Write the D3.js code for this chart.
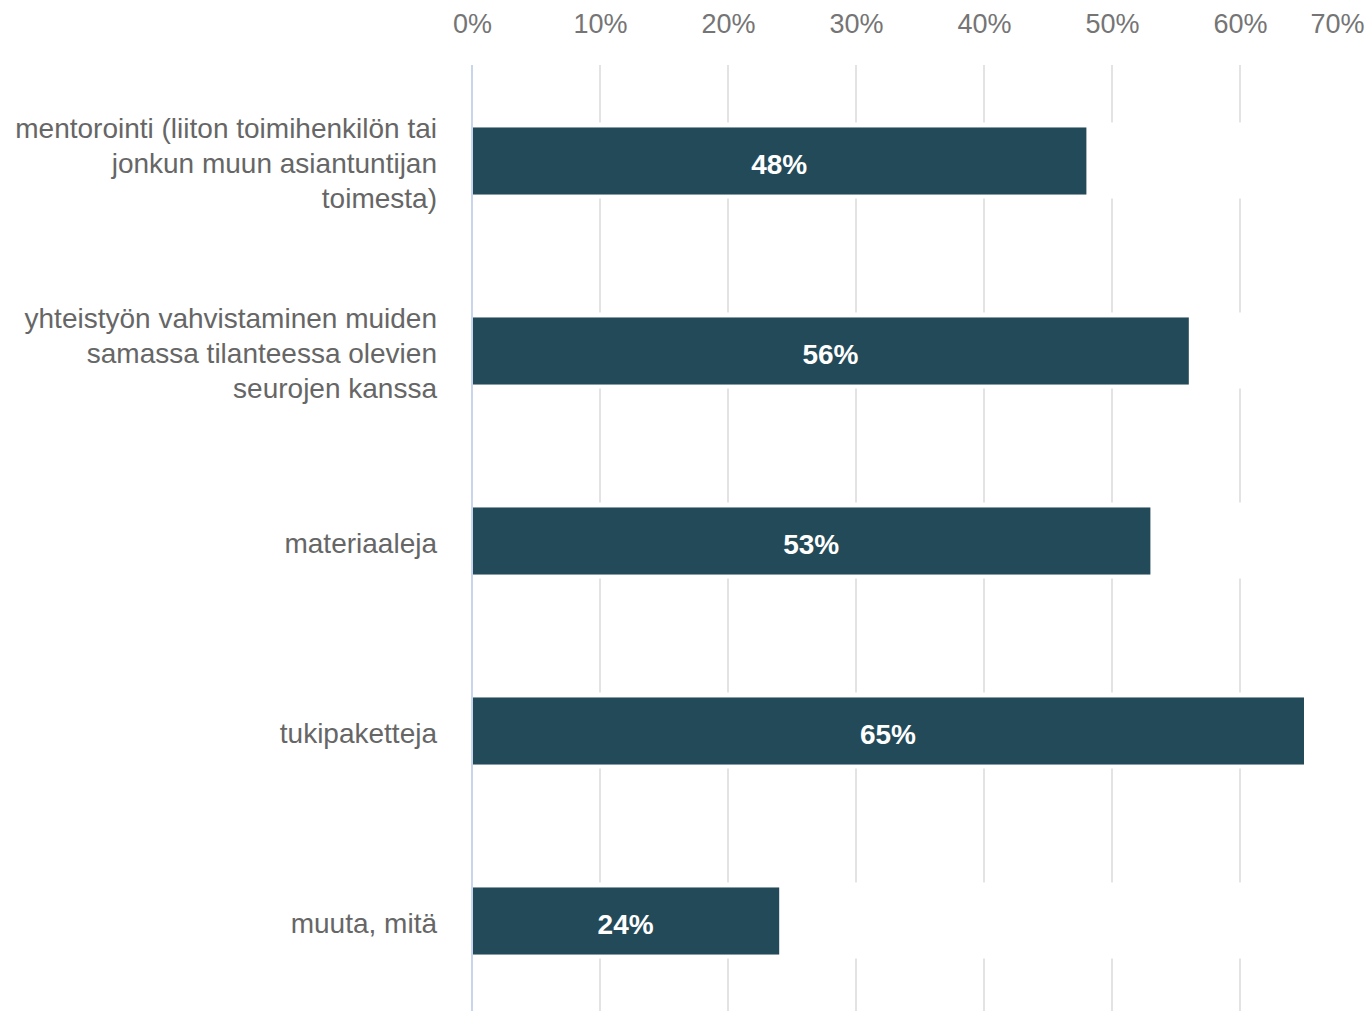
<!DOCTYPE html>
<html><head><meta charset="utf-8">
<script src="https://cdn.jsdelivr.net/npm/d3@7"></script>
<style>body{margin:0;background:#fff}svg{display:block}</style>
</head><body>
<svg id="chart" width="1365" height="1011"></svg>
<script>
const categories = [
  ["mentorointi (liiton toimihenkilön tai", "jonkun muun asiantuntijan", "toimesta)"],
  ["yhteistyön vahvistaminen muiden", "samassa tilanteessa olevien", "seurojen kanssa"],
  ["materiaaleja"],
  ["tukipaketteja"],
  ["muuta, mitä"]
];
const values = [48, 56, 53, 65, 24];
const valueLabels = ["48%", "56%", "53%", "65%", "24%"];
const tickValues = [0, 10, 20, 30, 40, 50, 60, 70];
const tickLabels = ["0%", "10%", "20%", "30%", "40%", "50%", "60%", "70%"];

const svg = d3.select("#chart");
const font = "'Liberation Sans', Arial, sans-serif";
const x = d3.scaleLinear().domain([0, 70]).range([472, 1368]);
const y = d3.scaleBand().domain(d3.range(categories.length)).range([66, 1016]).paddingInner(0.647).paddingOuter(0.3235);

// gridlines
svg.append("g").selectAll("line").data(tickValues.filter(d => d > 0)).join("line")
  .attr("x1", d => x(d)).attr("x2", d => x(d)).attr("y1", 65).attr("y2", 1011)
  .attr("stroke", "#e3e3e3").attr("stroke-width", 2);

// white gaps around bars
svg.append("g").selectAll("rect").data(values).join("rect")
  .attr("x", x(0) + 1).attr("y", (d, i) => y(i) - 5)
  .attr("width", 1365).attr("height", y.bandwidth() + 9)
  .attr("fill", "#fff");

// zero axis line
svg.append("line").attr("x1", x(0)).attr("x2", x(0)).attr("y1", 65).attr("y2", 1011)
  .attr("stroke", "#c9d5ec").attr("stroke-width", 2);

// tick labels (top)
const xAxis = d3.axisTop(x).tickValues(tickValues).tickFormat((d, i) => tickLabels[i]).tickSize(0).tickPadding(0);
const ax = svg.append("g").attr("transform", "translate(0,33)").call(xAxis);
ax.select(".domain").remove();
ax.selectAll("text").attr("font-family", font).attr("font-size", 27).attr("fill", "#757575");
// keep the last tick label inside the picture
ax.selectAll(".tick").filter(d => d === 70).select("text")
  .attr("text-anchor", "end").attr("x", 1364 - x(70));

// bars
svg.append("g").selectAll("rect").data(values).join("rect")
  .attr("x", x(0) + 1).attr("y", (d, i) => y(i))
  .attr("width", d => x(d) - x(0) - 1).attr("height", y.bandwidth())
  .attr("fill", "#234a59");

// bar value labels
svg.append("g").selectAll("text").data(values).join("text")
  .attr("x", d => (x(0) + x(d)) / 2).attr("y", (d, i) => y(i) + y.bandwidth() / 2)
  .attr("dy", "0.45em").attr("text-anchor", "middle")
  .attr("font-family", font).attr("font-size", 28).attr("font-weight", "bold").attr("fill", "#fff")
  .text((d, i) => valueLabels[i]);

// category labels
const lineH = 35;
const cl = svg.append("g").selectAll("text").data(categories).join("text")
  .attr("text-anchor", "end").attr("font-family", font).attr("font-size", 28).attr("fill", "#666");
cl.each(function(lines, i) {
  const cy = y(i) + y.bandwidth() / 2;
  const start = cy - (lines.length - 1) * lineH / 2;
  d3.select(this).selectAll("tspan").data(lines).join("tspan")
    .attr("x", 437).attr("y", (d, j) => start + j * lineH).attr("dy", "0.42em").text(d => d);
});
</script>
</body></html>
